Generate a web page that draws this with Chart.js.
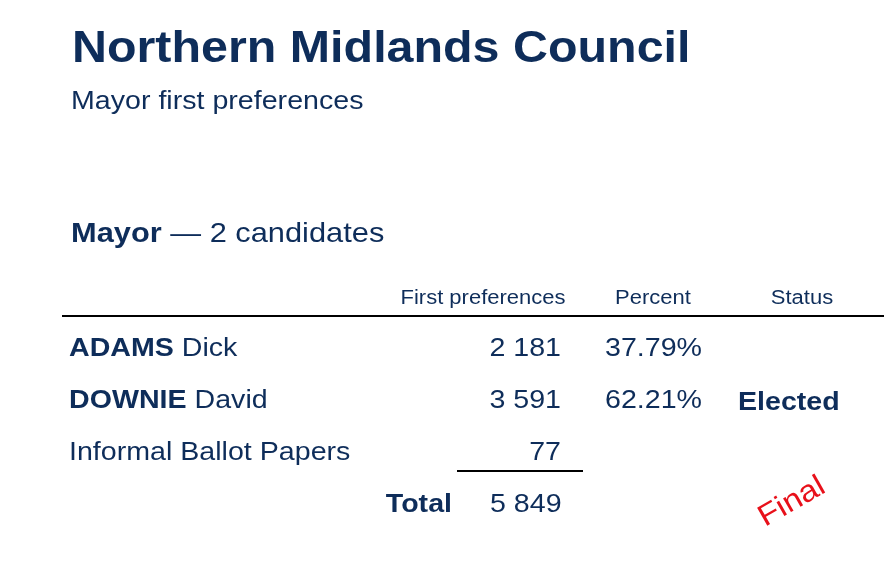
<!DOCTYPE html>
<html><head><meta charset="utf-8">
<script src="https://cdn.jsdelivr.net/npm/chart.js@4"></script>
<style>body{margin:0;background:#fff}canvas{display:block}</style>
</head><body>
<canvas id="c" width="885" height="563"></canvas>
<script>
const title = "Northern Midlands Council";
const subtitle = "Mayor first preferences";
const headers = ["First preferences", "Percent", "Status"];
const surnames = ["ADAMS", "DOWNIE", ""];
const givenNames = ["Dick", "David", "Informal Ballot Papers"];
const votes = [2181, 3591, 77];
const percents = ["37.79%", "62.21%", ""];
const statuses = ["", "Elected", ""];
const total = 5849;

const navy = "#0E2D5A";
const F = "'Liberation Sans', Arial, sans-serif";
const SX = 1.1;
const fmt = n => String(n).replace(/\B(?=(\d{3})+(?!\d))/g, " ");

const rowY = [349, 401, 453];
const plugin = {
  id: 'table',
  afterDraw(chart) {
    const {ctx, scales:{x, y}} = chart;
    const X = v => x.getPixelForValue(v), Y = v => y.getPixelForValue(v);
    // draws stretched text, returns its width
    const T = (s, px, py, align, font) => {
      ctx.font = font;
      const w = ctx.measureText(s).width * SX;
      const left = align === "right" ? px - w : align === "center" ? px - w / 2 : px;
      ctx.save(); ctx.translate(left, py); ctx.scale(SX, 1);
      ctx.textAlign = "left"; ctx.fillText(s, 0, 0); ctx.restore();
      return w;
    };
    ctx.save();
    ctx.fillStyle = navy; ctx.textBaseline = "middle";
    T(title, X(72), Y(50), "left", "bold 44px " + F);
    T(subtitle, X(71), Y(102), "left", "26px " + F);
    let w = T("Mayor", X(71), Y(234), "left", "bold 28px " + F);
    T(" — 2 candidates", X(71) + w, Y(234), "left", "28px " + F);
    T(headers[0], X(483), Y(298), "center", "20px " + F);
    T(headers[1], X(653), Y(298), "center", "20px " + F);
    T(headers[2], X(802), Y(298), "center", "20px " + F);
    ctx.strokeStyle = "#000"; ctx.lineWidth = 2;
    ctx.beginPath(); ctx.moveTo(X(62), Y(316)); ctx.lineTo(X(884), Y(316)); ctx.stroke();
    const ds = chart.data.datasets[0].data;
    for (let i = 0; i < votes.length; i++) {
      const yy = Y(ds[i].y);
      let xx = X(69);
      if (surnames[i]) xx += T(surnames[i] + " ", xx, yy, "left", "bold 26px " + F);
      T(givenNames[i], xx, yy, "left", "26px " + F);
      if (percents[i]) T(percents[i], X(605), yy, "left", "26px " + F);
      if (statuses[i]) T(statuses[i], X(738), yy + 2, "left", "bold 26px " + F);
      T(fmt(votes[i]), X(ds[i].x), yy, "right", "26px " + F);
    }
    ctx.beginPath(); ctx.moveTo(X(457), Y(471)); ctx.lineTo(X(583), Y(471)); ctx.stroke();
    T("Total", X(452), Y(505), "right", "bold 26px " + F);
    T(fmt(total), X(490), Y(505), "left", "26px " + F);
    ctx.translate(X(792), Y(502)); ctx.rotate(-0.52);
    ctx.fillStyle = "#E8101A";
    T("Final", 0, 0, "center", "30px " + F);
    ctx.restore();
  }
};

new Chart(document.getElementById('c'), {
  type: 'scatter',
  data: { datasets: [{ data: votes.map((v, i) => ({x: 561, y: rowY[i]})), pointRadius: 0 }] },
  options: {
    responsive: false, animation: false,
    layout: { padding: 0 },
    plugins: { legend: {display: false}, tooltip: {enabled: false} },
    scales: {
      x: { type: 'linear', min: 0, max: 885, display: false },
      y: { type: 'linear', min: 0, max: 563, reverse: true, display: false }
    }
  },
  plugins: [plugin]
});
</script>
</body></html>
